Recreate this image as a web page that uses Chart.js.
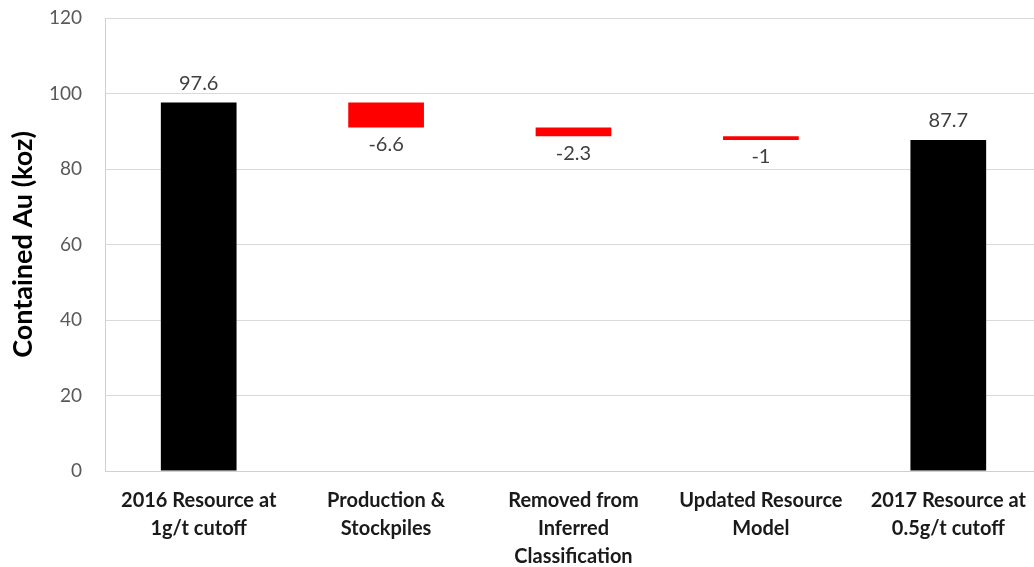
<!DOCTYPE html>
<html>
<head>
<meta charset="utf-8">
<script src="https://cdn.jsdelivr.net/npm/chart.js@4"></script>
<style>
  html, body { margin: 0; padding: 0; background: #fff; overflow: hidden; }
  #wrap { width: 1042px; height: 567px; }
</style>
</head>
<body>
<div id="wrap"><canvas id="myChart"></canvas></div>
<script>
const categories = [
  ["2016 Resource at", "1g/t cutoff"],
  ["Production &", "Stockpiles"],
  ["Removed from", "Inferred", "Classification"],
  ["Updated Resource", "Model"],
  ["2017 Resource at", "0.5g/t cutoff"]
];
const values = [97.6, -6.6, -2.3, -1, 87.7];
const isTotal = [true, false, false, false, true];
const yTicks = [0, 20, 40, 60, 80, 100, 120];

// waterfall: totals start at zero, changes float from the running level
const ranges = [];
let level = 0;
values.forEach((v, i) => {
  if (isTotal[i]) {
    ranges.push([0, v]);
    level = v;
  } else {
    ranges.push([level + v, level]);
    level = level + v;
  }
});

const labelPlugin = {
  id: "barLabels",
  afterDatasetsDraw(chart) {
    const ctx = chart.ctx;
    const meta = chart.getDatasetMeta(0);
    ctx.save();
    ctx.font = "20px Lato";
    ctx.fillStyle = "#404040";
    ctx.textAlign = "center";
    ctx.textBaseline = "middle";
    meta.data.forEach((bar, i) => {
      const top = Math.min(bar.y, bar.base);
      const bottom = Math.max(bar.y, bar.base);
      const y = values[i] >= 0 ? top - 19 : bottom + 17;
      ctx.fillText(String(values[i]), bar.x, y);
    });
    ctx.restore();
  }
};

const ctx = document.getElementById("myChart");

new Chart(ctx, {
  type: "bar",
  data: {
    labels: categories,
    datasets: [
      {
        data: ranges,
        backgroundColor: values.map((v, i) => (isTotal[i] ? "#000000" : "#ff0000")),
        borderWidth: 0,
        barPercentage: 0.404,
        categoryPercentage: 1
      }
    ]
  },
  options: {
    responsive: true,
    maintainAspectRatio: false,
    animation: false,
    layout: { padding: { top: 18, right: 0, left: 0, bottom: 0 } },
    plugins: {
      legend: { display: false },
      tooltip: { enabled: false }
    },
    scales: {
      x: {
        grid: { display: false, drawTicks: false },
        border: { color: "#d0d0d0", width: 1 },
        ticks: {
          color: "#1a1a1a",
          font: { family: "Lato", size: 20, weight: "bold", lineHeight: 1.4 },
          padding: 16,
          maxRotation: 0,
          autoSkip: false
        },
        afterFit(scale) { scale.height = 96; }
      },
      y: {
        min: 0,
        max: 120,
        afterBuildTicks(scale) { scale.ticks = yTicks.map(v => ({ value: v })); },
        grid: { color: "#d9d9d9", drawTicks: false },
        border: { color: "#d0d0d0", width: 1 },
        ticks: {
          color: "#595959",
          font: { family: "Lato", size: 19 },
          padding: 23
        },
        title: {
          display: true,
          text: "Contained Au (koz)",
          color: "#000000",
          font: { family: "Lato", size: 27, weight: "bold" },
          padding: { top: 7, bottom: 0 }
        },
        afterFit(scale) {
          scale.width = 105;
          scale.paddingTop = 0;
          scale.paddingBottom = 0;
        }
      }
    }
  },
  plugins: [labelPlugin]
});
</script>
</body>
</html>
